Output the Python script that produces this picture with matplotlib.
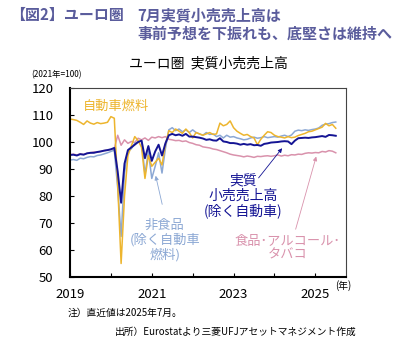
import numpy as np
import pandas as pd
import matplotlib
matplotlib.use("Agg")
import matplotlib.pyplot as plt

plt.rcParams['font.family'] = ['Noto Sans CJK JP', 'DejaVu Sans']

# monthly, Jan 2019 - Jul 2025 (2021=100)
months = pd.date_range("2019-01-01", "2025-07-01", freq="MS")

# retail sales ex autos (navy)
retail = [95.2, 95.3, 95.0, 95.5, 95.3, 95.8, 96.0, 96.0, 96.3, 96.5, 96.8, 97.0,
          97.3, 97.8, 89.0, 77.5, 92.0, 97.0, 98.0, 99.0, 100.0, 100.5, 94.0, 98.5,
          93.0, 96.5, 99.0, 95.0, 99.5, 102.5, 103.0, 102.5, 102.8, 102.3, 103.0, 102.0,
          102.0, 101.8, 101.6, 101.3, 100.8, 101.0, 100.6, 100.5, 101.4, 100.2, 100.0, 99.6,
          99.6, 99.4, 99.0, 99.3, 99.0, 99.2, 98.8, 98.9, 98.6, 99.3, 99.5, 99.8,
          99.9, 100.0, 100.2, 100.3, 100.2, 99.2, 100.5, 101.4, 101.5, 101.6, 101.5, 101.7,
          101.8, 102.0, 102.2, 101.9, 102.6, 102.5, 102.3]

# non-food ex auto fuel (light blue)
nonfood = [93.3, 93.5, 93.2, 94.0, 93.8, 94.3, 94.6, 94.5, 95.0, 95.2, 95.6, 96.0,
           96.5, 97.0, 83.0, 65.0, 88.5, 96.5, 97.5, 99.5, 100.0, 100.5, 88.0, 96.5,
           86.5, 91.0, 96.0, 88.5, 97.5, 104.5, 105.3, 104.2, 104.8, 103.8, 104.5, 103.5,
           104.5, 103.5, 103.0, 102.5, 103.5, 102.8, 103.0, 102.0, 102.5, 101.5, 102.5, 101.8,
           102.0, 101.5, 101.2, 100.8, 101.0, 101.5, 101.8, 101.4, 101.6, 102.0, 101.6, 101.8,
           102.0, 101.8, 102.2, 102.5, 102.0, 102.6, 104.0, 104.4, 104.2, 104.5, 104.3, 104.6,
           104.8, 105.2, 106.2, 106.6, 106.8, 107.2, 107.4]

# automotive fuel (yellow)
fuel = [108.5, 108.3, 108.0, 107.3, 106.5, 107.8, 107.0, 106.6, 107.2, 106.8, 107.0, 107.3,
        109.4, 108.8, 84.0, 55.0, 80.0, 95.0, 98.5, 102.0, 100.5, 98.0, 86.5, 95.0,
        91.0, 92.5, 94.0, 91.5, 99.0, 104.2, 103.5, 104.8, 104.0, 103.2, 104.8, 103.5,
        101.5, 103.5, 103.0, 102.5, 103.0, 103.5, 102.8, 103.0, 107.0, 106.0, 106.5, 107.8,
        105.3, 104.0, 103.2, 102.5, 102.8, 102.0, 101.5, 99.0, 101.0, 102.5, 103.8, 103.5,
        102.5, 102.0, 101.8, 101.5, 102.0, 101.6, 101.8, 102.4, 102.8, 103.2, 103.8, 104.0,
        104.5, 105.0, 105.5, 106.9, 106.0, 106.5, 105.1]

# food, drinks, tobacco (pink)
food = [95.3, 95.5, 95.2, 95.6, 95.4, 95.8, 96.0, 96.3, 96.2, 96.5, 96.8, 97.0,
        97.2, 97.6, 102.5, 98.8, 100.8, 99.5, 100.2, 99.8, 101.4, 100.8, 101.5, 100.6,
        101.8, 101.5, 102.0, 101.6, 102.0, 101.0, 100.8, 100.5, 100.6, 100.2, 100.4, 99.8,
        99.5, 99.0, 98.8, 98.2, 98.0, 97.8, 97.4, 97.2, 96.8, 96.4, 96.0, 95.5,
        95.2, 95.0, 94.8, 94.5, 94.8, 94.6, 94.3, 94.7, 94.6, 94.8, 94.9, 94.7,
        94.9, 95.2, 94.8, 95.1, 94.9, 95.3, 95.2, 95.5, 95.4, 95.8, 96.0, 95.9,
        96.1, 96.0, 96.5, 96.3, 96.8, 96.6, 96.0]

x = months.year + (months.month - 1) / 12

c_navy = '#141494'
c_blue = '#8CA8D4'
c_yellow = '#EDB52E'
c_pink = '#D992AC'

fig = plt.figure(figsize=(4.1, 3.47), dpi=100)
ax = fig.add_axes([70/410, 1-277/347, 276/410, 189/347])

ax.plot(x, food, color=c_pink, lw=1.1)
ax.plot(x, nonfood, color=c_blue, lw=1.1)
ax.plot(x, fuel, color=c_yellow, lw=1.1)
ax.plot(x, retail, color=c_navy, lw=1.4)

ax.set_xlim(2019, 2025.75)
ax.set_ylim(50, 120)
ax.set_xticks(range(2019, 2026))
ax.set_xticklabels(['2019', '', '2021', '', '2023', '', '2025'])
ax.set_yticks(range(50, 121, 10))
ax.tick_params(direction='in', labelsize=9.5, length=3, pad=8)
ax.tick_params(axis='y', pad=12)
for s in ['left', 'bottom']:
    ax.spines[s].set_linewidth(1.5)
for s in ['top', 'right']:
    ax.spines[s].set_linewidth(0.8)
    ax.spines[s].set_color('#444444')

# series labels
ax.text(2020.12, 113.3, '自動車燃料', color=c_yellow, fontsize=9.5, ha='center', va='center')
ax.text(2023.23, 80, '実質\n小売売上高\n(除く自動車)', color=c_navy, fontsize=10,
        ha='center', va='center', linespacing=1.1)
ax.text(2021.32, 63.7, '非食品\n(除く自動車\n燃料)', color=c_blue, fontsize=9.5,
        ha='center', va='center', linespacing=1.1)
ax.text(2024.33, 60.6, '食品･アルコール･\nタバコ', color=c_pink, fontsize=9.5,
        ha='center', va='center', linespacing=1.1)

ax.annotate('', xy=(2024.23, 98.5), xytext=(2023.57, 85.9),
            arrowprops=dict(arrowstyle='-|>', color=c_navy, lw=0.6, mutation_scale=6))
ax.annotate('', xy=(2021.08, 88.5), xytext=(2021.27, 75.9),
            arrowprops=dict(arrowstyle='-|>', color=c_blue, lw=0.6, mutation_scale=6))
ax.annotate('', xy=(2025.04, 95.6), xytext=(2024.50, 66.7),
            arrowprops=dict(arrowstyle='-|>', color=c_pink, lw=0.6, mutation_scale=6))

# titles and notes
tc = '#5A5C9C'
fig.text(10/410, 1-15/347, '【図2】ユーロ圏', color=tc, fontsize=10.8, fontweight='bold', va='center')
fig.text(137/410, 1-15/347, '7月実質小売売上高は', color=tc, fontsize=10.8, fontweight='bold', va='center')
fig.text(137/410, 1-34/347, '事前予想を下振れも、底堅さは維持へ', color=tc, fontsize=10.8,
         fontweight='bold', va='center')
fig.text(208/410, 1-63/347, 'ユーロ圏  実質小売売上高', fontsize=10, ha='center', va='center')
fig.text(56/410, 1-75/347, '(2021年=100)', fontsize=6, ha='center', va='center')
fig.text(343/410, 1-286/347, '(年)', fontsize=7, ha='center', va='center')
fig.text(68/410, 1-313/347, '注）直近値は2025年7月。', fontsize=7, va='center')
fig.text(115/410, 1-332/347, '出所）Eurostatより三菱UFJアセットマネジメント作成', fontsize=7, va='center')

fig.savefig('out.png', dpi=100)
